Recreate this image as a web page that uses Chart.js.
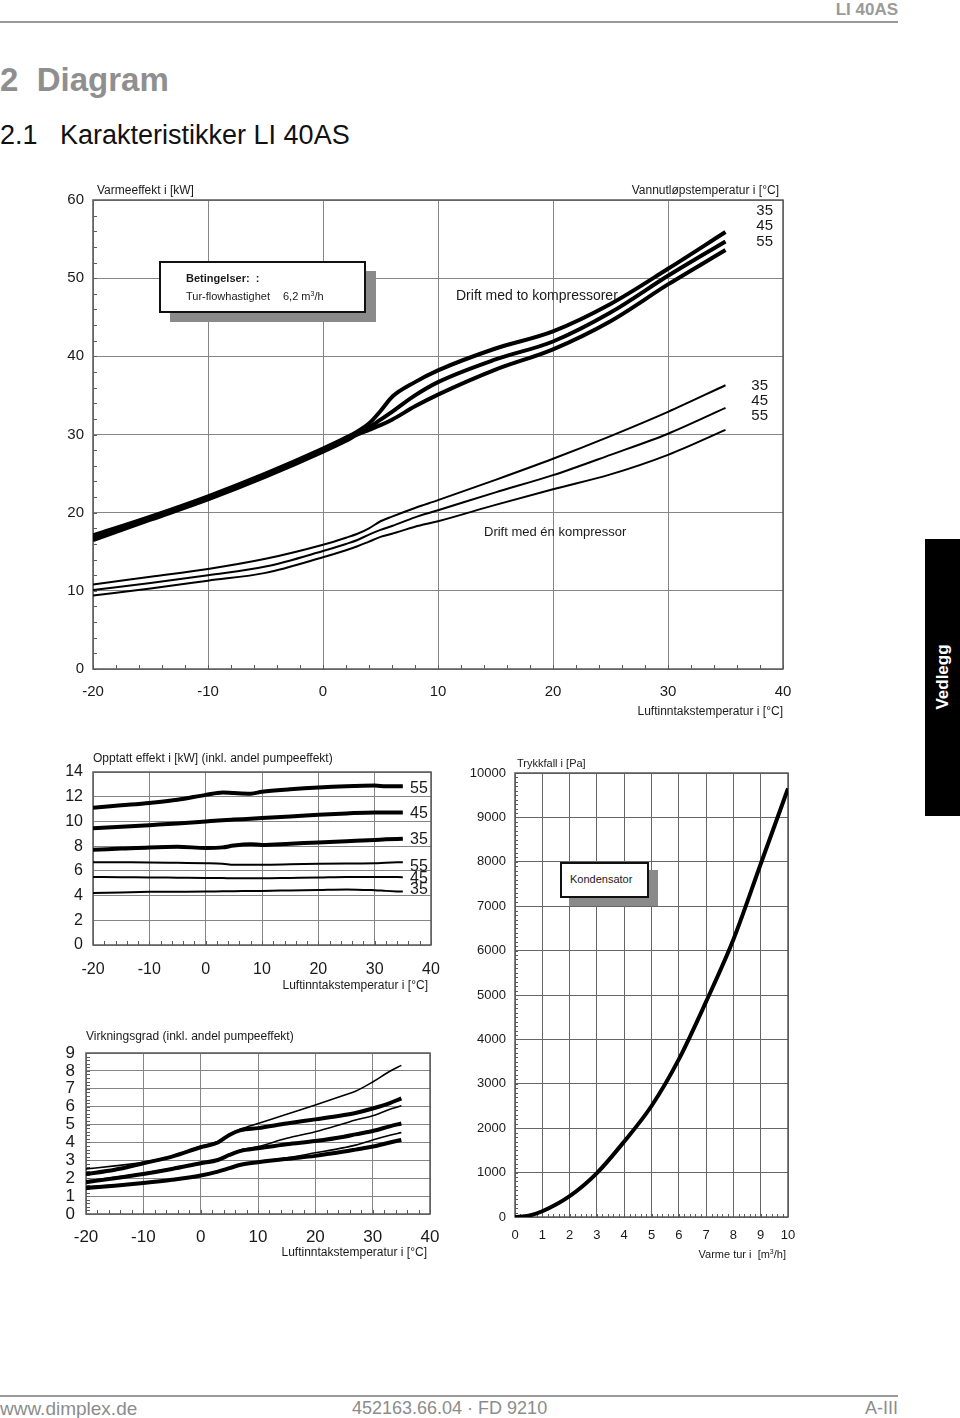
<!DOCTYPE html>
<html>
<head>
<meta charset="utf-8">
<script src="https://cdn.jsdelivr.net/npm/chart.js@4.4.1/dist/chart.umd.min.js"></script>
<style>
  body { margin: 0; width: 960px; height: 1418px; position: relative; overflow: hidden; background: #fff;
         font-family: "Liberation Sans", Arial, sans-serif; color: #1a1a1a; }
  .t { position: absolute; white-space: nowrap; line-height: 1; transform: translateY(-50%); }
  .r { text-align: right; }
  canvas { position: absolute; }
  .box { position: absolute; background: #fff; border: 2px solid #111; box-sizing: border-box; }
  .shadow { position: absolute; background: #8a8a8a; }
</style>
</head>
<body>

<!-- page header -->
<div class="t r" style="right:62px;top:9px;font-size:17px;font-weight:bold;color:#9a9a9a;">LI 40AS</div>
<div style="position:absolute;left:0;top:21px;width:898px;height:2px;background:#9a9a9a;"></div>
<div class="t" style="left:0;top:79px;font-size:33px;font-weight:bold;color:#8f8f8f;">2&nbsp;&nbsp;Diagram</div>
<div class="t" style="left:0;top:135px;font-size:27px;color:#111;">2.1&nbsp;&nbsp;&nbsp;Karakteristikker LI 40AS</div>

<!-- chart 1 -->
<canvas id="heatOutput" width="770" height="560" style="left:30px;top:180px;"></canvas>
<div class="t" style="left:97px;top:190px;font-size:12px;">Varmeeffekt i [kW]</div>
<div class="t r" style="right:181px;top:190px;font-size:12px;">Vannutløpstemperatur i [°C]</div>
<div class="t r" style="right:187px;top:209px;font-size:15px;">35</div>
<div class="t r" style="right:187px;top:224px;font-size:15px;">45</div>
<div class="t r" style="right:187px;top:240px;font-size:15px;">55</div>
<div class="t r" style="right:192px;top:384px;font-size:15px;">35</div>
<div class="t r" style="right:192px;top:399px;font-size:15px;">45</div>
<div class="t r" style="right:192px;top:414px;font-size:15px;">55</div>
<div class="t" style="left:456px;top:295px;font-size:14px;">Drift med to kompressorer</div>
<div class="t" style="left:484px;top:531px;font-size:13px;">Drift med én kompressor</div>
<div class="t r" style="right:177px;top:711px;font-size:12px;">Luftinntakstemperatur i [°C]</div>
<div class="shadow" style="left:170px;top:271px;width:206px;height:51px;"></div>
<div class="box" style="left:159px;top:261px;width:207px;height:52px;"></div>
<div class="t" style="left:186px;top:278px;font-size:11px;font-weight:bold;">Betingelser:&nbsp; :</div>
<div class="t" style="left:186px;top:296px;font-size:11px;">Tur-flowhastighet</div>
<div class="t" style="left:283px;top:296px;font-size:11px;">6,2 m<sup style="font-size:7px;">3</sup>/h</div>

<!-- Vedlegg tab -->
<div style="position:absolute;left:925px;top:539px;width:35px;height:277px;background:#000;"></div>
<div class="t" style="left:942px;top:677px;font-size:17px;font-weight:bold;color:#fff;transform:translate(-50%,-50%) rotate(-90deg);">Vedlegg</div>

<!-- chart 2 -->
<canvas id="powerInput" width="420" height="245" style="left:30px;top:755px;"></canvas>
<div class="t" style="left:93px;top:758px;font-size:12px;">Opptatt effekt i [kW] (inkl. andel pumpeeffekt)</div>
<div class="t" style="left:410px;top:788px;font-size:16px;">55</div>
<div class="t" style="left:410px;top:813px;font-size:16px;">45</div>
<div class="t" style="left:410px;top:839px;font-size:16px;">35</div>
<div class="t" style="left:410px;top:866px;font-size:16px;">55</div>
<div class="t" style="left:410px;top:878px;font-size:16px;">45</div>
<div class="t" style="left:410px;top:889px;font-size:16px;">35</div>
<div class="t r" style="right:532px;top:985px;font-size:12px;">Luftinntakstemperatur i [°C]</div>

<!-- chart 3 -->
<canvas id="pressureDrop" width="340" height="500" style="left:460px;top:755px;"></canvas>
<div class="t" style="left:517px;top:763px;font-size:11px;">Trykkfall i [Pa]</div>
<div class="shadow" style="left:569px;top:870px;width:89px;height:36px;"></div>
<div class="box" style="left:560px;top:862px;width:89px;height:36px;"></div>
<div class="t" style="left:570px;top:879px;font-size:11px;">Kondensator</div>
<div class="t r" style="right:174px;top:1254px;font-size:11px;">Varme tur i&nbsp; [m<sup style="font-size:7px;">3</sup>/h]</div>

<!-- chart 4 -->
<canvas id="efficiency" width="420" height="215" style="left:30px;top:1040px;"></canvas>
<div class="t" style="left:86px;top:1036px;font-size:12px;">Virkningsgrad (inkl. andel pumpeeffekt)</div>
<div class="t r" style="right:533px;top:1252px;font-size:12px;">Luftinntakstemperatur i [°C]</div>

<!-- page footer -->
<div style="position:absolute;left:0;top:1395px;width:898px;height:2px;background:#9a9a9a;"></div>
<div class="t" style="left:0;top:1408px;font-size:19px;color:#8c8c8c;">www.dimplex.de</div>
<div class="t" style="left:352px;top:1408px;font-size:18px;color:#8c8c8c;">452163.66.04 · FD 9210</div>
<div class="t r" style="right:62px;top:1408px;font-size:18px;color:#8c8c8c;">A-III</div>

<script>
const TICK_COLOR = '#1a1a1a';
const GRID_COLOR = '#858585';
const DARK_GRID_COLOR = '#666666';
const FRAME_COLOR = '#5a5a5a';
const LINE_COLOR = '#000000';
const FONT = '"Liberation Sans", Arial, sans-serif';

// heating output, air intake temp -20..35
const TEMP_X = [-20, -15, -10, -5, 0, 2, 3, 4, 5, 6, 8, 10, 15, 20, 25, 30, 35];
const TWO_COMP_35 = [17.1, 19.5, 22.1, 25.0, 28.2, 29.6, 30.4, 31.4, 33.0, 34.8, 36.7, 38.2, 41.0, 43.2, 46.7, 51.2, 55.9];
const TWO_COMP_45 = [16.8, 19.3, 21.9, 24.8, 28.0, 29.4, 30.2, 30.9, 31.9, 32.9, 35.0, 36.7, 39.6, 41.9, 45.6, 50.3, 54.7];
const TWO_COMP_55 = [16.5, 19.1, 21.7, 24.6, 27.8, 29.2, 30.0, 30.6, 31.2, 31.9, 33.6, 35.1, 38.3, 40.9, 44.5, 49.2, 53.6];
const ONE_COMP_35 = [10.8, 11.8, 12.8, 14.1, 15.9, 16.8, 17.3, 18.0, 18.9, 19.5, 20.6, 21.6, 24.2, 26.9, 29.8, 32.9, 36.3];
const ONE_COMP_45 = [10.1, 11.0, 12.0, 13.1, 15.1, 16.0, 16.5, 17.2, 17.8, 18.3, 19.4, 20.3, 22.6, 24.8, 27.4, 30.1, 33.4];
const ONE_COMP_55 = [9.4, 10.3, 11.3, 12.3, 14.3, 15.2, 15.7, 16.3, 16.9, 17.3, 18.2, 18.9, 21.0, 23.0, 24.9, 27.4, 30.6];

// power input
const POWER_X = [-20, -15, -10, -5, 0, 3, 5, 8, 10, 15, 20, 25, 30, 32, 35];
const POWER_HI_55 = [11.1, 11.3, 11.5, 11.75, 12.15, 12.35, 12.3, 12.25, 12.4, 12.6, 12.75, 12.85, 12.9, 12.85, 12.85];
const POWER_HI_45 = [9.45, 9.57, 9.7, 9.83, 10.0, 10.1, 10.15, 10.22, 10.27, 10.4, 10.54, 10.65, 10.73, 10.73, 10.73];
const POWER_HI_35 = [7.7, 7.8, 7.9, 7.95, 7.85, 7.9, 8.05, 8.15, 8.1, 8.2, 8.3, 8.4, 8.5, 8.55, 8.6];
const POWER_LO_55 = [6.7, 6.69, 6.68, 6.65, 6.62, 6.58, 6.5, 6.5, 6.5, 6.53, 6.57, 6.6, 6.62, 6.66, 6.7];
const POWER_LO_45 = [5.5, 5.48, 5.47, 5.45, 5.43, 5.42, 5.4, 5.4, 5.4, 5.43, 5.46, 5.5, 5.5, 5.5, 5.49];
const POWER_LO_35 = [4.2, 4.25, 4.3, 4.31, 4.32, 4.34, 4.35, 4.37, 4.38, 4.42, 4.46, 4.5, 4.43, 4.38, 4.32];

// condenser pressure drop
const FLOW_X = [0, 0.5, 1, 2, 3, 4, 5, 6, 7, 8, 9, 10];
const PRESSURE_DROP = [0, 30, 130, 470, 990, 1700, 2500, 3550, 4850, 6250, 7950, 9650];

// COP
const COP_X = [-20, -15, -10, -5, 0, 3, 5, 7, 10, 15, 20, 25, 27, 30, 33, 35];
const COP_THIN_A = [2.52, 2.69, 2.89, 3.23, 3.78, 4.05, 4.45, 4.75, 5.06, 5.57, 6.09, 6.64, 6.86, 7.38, 7.98, 8.31];
const COP_THICK_A = [2.23, 2.47, 2.84, 3.21, 3.73, 4.0, 4.42, 4.69, 4.8, 5.06, 5.29, 5.53, 5.65, 5.9, 6.2, 6.46];
const COP_THIN_B = [1.85, 2.05, 2.28, 2.55, 2.86, 3.05, 3.33, 3.58, 3.77, 4.23, 4.6, 5.06, 5.25, 5.49, 5.85, 6.05];
const COP_THICK_B = [1.78, 2.0, 2.24, 2.52, 2.84, 3.02, 3.3, 3.53, 3.67, 3.9, 4.08, 4.32, 4.45, 4.64, 4.9, 5.06];
const COP_THIN_C = [1.52, 1.62, 1.72, 1.9, 2.16, 2.38, 2.57, 2.76, 2.92, 3.14, 3.42, 3.71, 3.85, 4.14, 4.4, 4.55];
const COP_THICK_C = [1.45, 1.58, 1.73, 1.91, 2.15, 2.37, 2.56, 2.75, 2.89, 3.08, 3.25, 3.49, 3.6, 3.77, 4.0, 4.14];

const toPoints = (xs, ys) => xs.map((x, i) => ({ x, y: ys[i] }));

const line = (xs, ys, width) => ({
  data: toPoints(xs, ys),
  borderColor: LINE_COLOR,
  borderWidth: width,
  pointRadius: 0,
  fill: false,
  tension: 0.4,
  cubicInterpolationMode: 'monotone',
});

// frame + small inner ticks
const frameAndTicks = {
  id: 'frameAndTicks',
  beforeDatasetsDraw(chart, args, opts) {
    const { ctx, chartArea: a, scales: { x, y } } = chart;
    ctx.save();
    ctx.strokeStyle = FRAME_COLOR;
    ctx.lineWidth = 1;
    ctx.beginPath();
    if (opts.x) {
      const n = Math.round((x.max - x.min) / opts.x);
      for (let i = 0; i <= n; i++) {
        const px = Math.round(x.getPixelForValue(x.min + i * opts.x)) + 0.5;
        ctx.moveTo(px, a.bottom);
        ctx.lineTo(px, a.bottom - opts.len);
      }
    }
    if (opts.y) {
      const n = Math.round((y.max - y.min) / opts.y);
      for (let i = 0; i <= n; i++) {
        const py = Math.round(y.getPixelForValue(y.min + i * opts.y)) + 0.5;
        ctx.moveTo(a.left, py);
        ctx.lineTo(a.left + opts.len, py);
      }
    }
    ctx.stroke();
    ctx.lineWidth = 1.5;
    ctx.strokeRect(a.left, a.top, a.right - a.left, a.bottom - a.top);
    ctx.restore();
  },
};

// label gap is done with an invisible tick mark so it does not push the plot edges
const axis = (min, max, step, fontSize, gap, fixedSize, isY, gridColor = GRID_COLOR) => ({
  type: 'linear',
  min,
  max,
  border: { display: false },
  grid: { color: gridColor, drawTicks: true, tickLength: gap, tickColor: 'transparent', lineWidth: 1 },
  ticks: {
    stepSize: step,
    color: TICK_COLOR,
    padding: 0,
    maxRotation: 0,
    autoSkip: false,
    font: { family: FONT, size: fontSize },
    callback: (v) => String(v),
  },
  afterFit: (scale) => {
    if (isY) scale.width = fixedSize;
    else scale.height = fixedSize;
  },
});

const makeChart = (id, datasets, xAxis, yAxis, padding, minor) =>
  new Chart(document.getElementById(id), {
    type: 'line',
    data: { datasets },
    options: {
      responsive: false,
      animation: false,
      devicePixelRatio: 1,
      layout: { padding },
      scales: { x: xAxis, y: yAxis },
      plugins: { legend: { display: false }, tooltip: { enabled: false }, frameAndTicks: minor },
    },
    plugins: [frameAndTicks],
  });

makeChart(
  'heatOutput',
  [
    line(TEMP_X, TWO_COMP_35, 4),
    line(TEMP_X, TWO_COMP_45, 4),
    line(TEMP_X, TWO_COMP_55, 4),
    line(TEMP_X, ONE_COMP_35, 2),
    line(TEMP_X, ONE_COMP_45, 2),
    line(TEMP_X, ONE_COMP_55, 2),
  ],
  axis(-20, 40, 10, 15, 14, 71, false),
  axis(0, 60, 10, 15, 9, 63, true),
  { top: 20, right: 17, left: 0, bottom: 0 },
  { x: 2, y: 2, len: 4 }
);

makeChart(
  'powerInput',
  [
    line(POWER_X, POWER_HI_55, 4),
    line(POWER_X, POWER_HI_45, 4),
    line(POWER_X, POWER_HI_35, 4),
    line(POWER_X, POWER_LO_55, 2),
    line(POWER_X, POWER_LO_45, 2),
    line(POWER_X, POWER_LO_35, 2),
  ],
  axis(-20, 40, 10, 16, 15, 55, false),
  axis(0, 14, 2, 16, 10, 63, true),
  { top: 17, right: 19, left: 0, bottom: 0 },
  { x: 2, len: 4 }
);

makeChart(
  'pressureDrop',
  [line(FLOW_X, PRESSURE_DROP, 4)],
  axis(0, 10, 1, 13, 11, 38, false, DARK_GRID_COLOR),
  axis(0, 10000, 1000, 13, 9, 55, true, DARK_GRID_COLOR),
  { top: 18, right: 12, left: 0, bottom: 0 },
  { x: 0.2, y: 100, len: 3 }
);

makeChart(
  'efficiency',
  [
    line(COP_X, COP_THIN_A, 1.6),
    line(COP_X, COP_THICK_A, 4),
    line(COP_X, COP_THIN_B, 1.6),
    line(COP_X, COP_THICK_B, 4),
    line(COP_X, COP_THIN_C, 1.6),
    line(COP_X, COP_THICK_C, 4),
  ],
  axis(-20, 40, 10, 17, 13, 41, false),
  axis(0, 9, 1, 17, 11, 56, true),
  { top: 13, right: 20, left: 0, bottom: 0 },
  { x: 2, y: 0.2, len: 4 }
);
</script>
</body>
</html>
